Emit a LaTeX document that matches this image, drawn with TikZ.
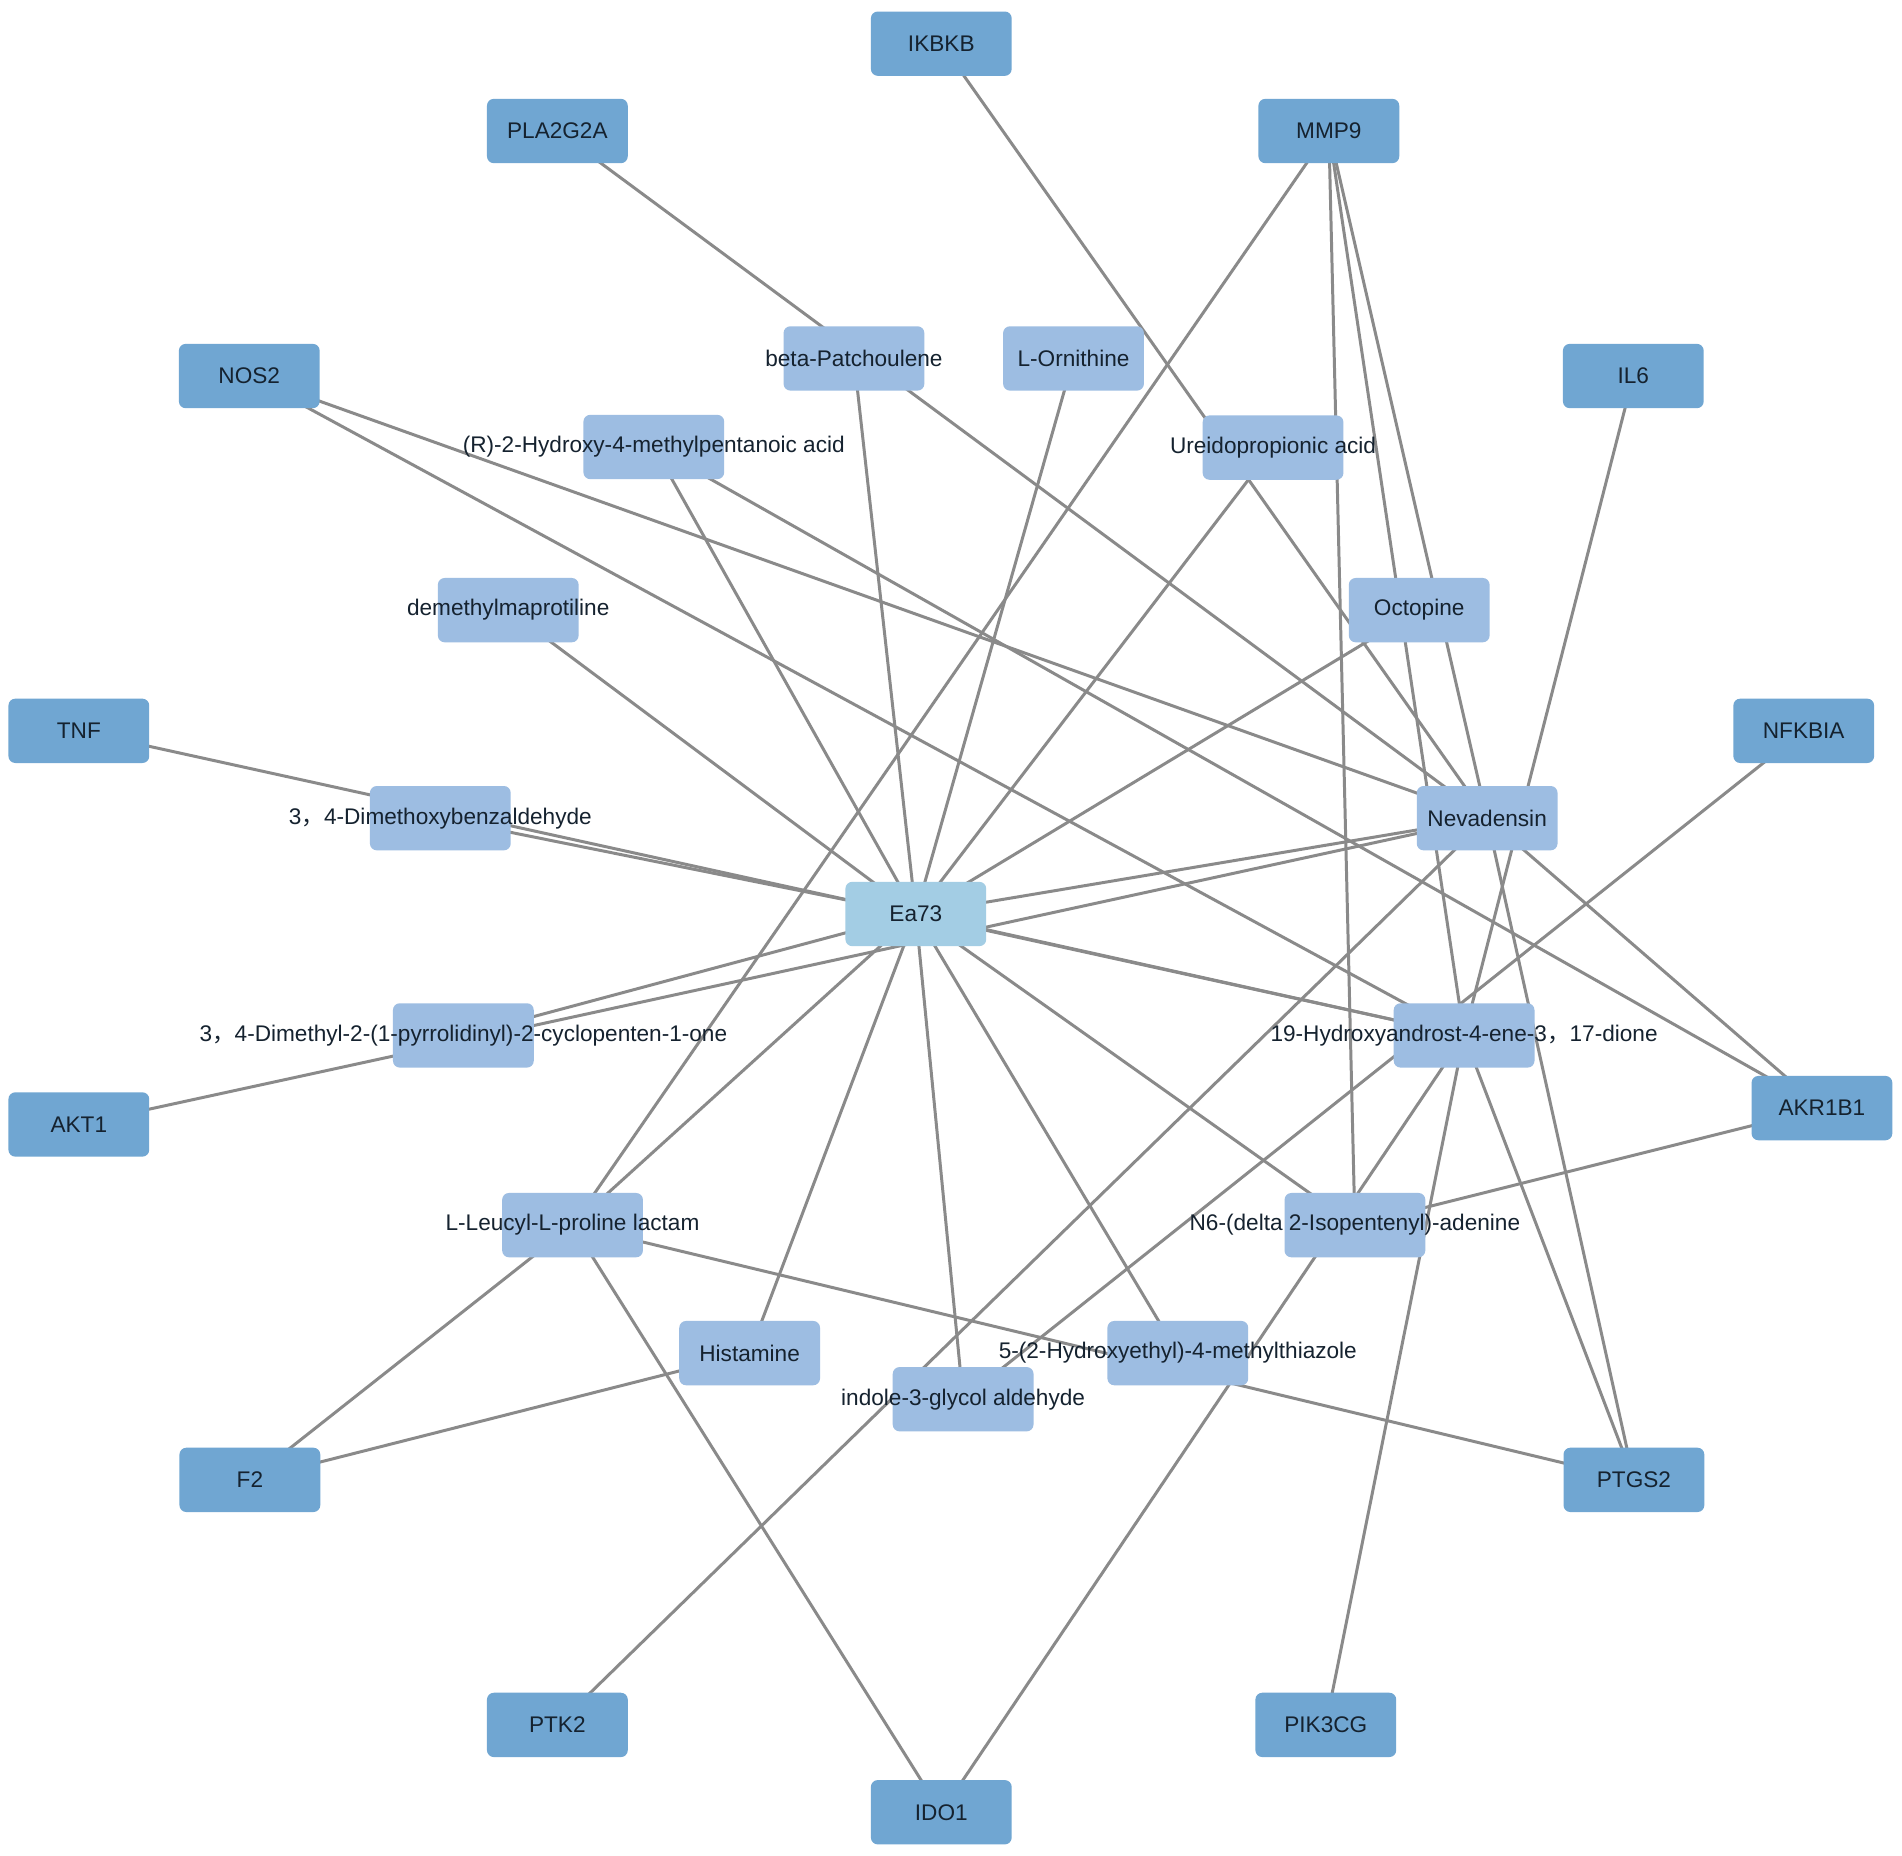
\documentclass[tikz,border=0pt]{standalone}
\usepackage{fontspec}
\setmainfont{Liberation Sans}
\newfontfamily\cjk{Noto Sans CJK SC}
\definecolor{tgtc}{HTML}{70A6D2}
\definecolor{cmpc}{HTML}{9DBDE2}
\definecolor{hubc}{HTML}{A3CDE4}
\definecolor{edgec}{HTML}{8A8A8A}
\definecolor{txtc}{HTML}{15222F}
\pgfdeclarelayer{back}
\pgfdeclarelayer{bg}
\pgfsetlayers{back,bg,main}
\begin{document}
\begin{tikzpicture}[x=0.01cm,y=-0.01cm,
  box/.style={rectangle, rounded corners=1.6pt, minimum width=1.16cm, minimum height=0.53cm, inner sep=0pt},
  tgtbox/.style={box, fill=tgtc},
  cmpbox/.style={box, fill=cmpc},
  hubbox/.style={box, fill=hubc},
  lbl/.style={inner sep=0pt, text=txtc, font=\fontsize{5.3pt}{6pt}\selectfont},
  link/.style={draw=edgec, line width=0.7pt}]
\begin{pgfonlayer}{back}
\fill[white] (0,0) rectangle (1568,1530);
\end{pgfonlayer}
\useasboundingbox (0,0) rectangle (1568,1530);
% targets
\node[tgtbox] (IKBKB) at (776,36) {};
\node[tgtbox] (PLA) at (459.5,108) {};
\node[tgtbox] (MMP) at (1095.5,108) {};
\node[tgtbox] (NOS) at (205.5,310) {};
\node[tgtbox] (IL) at (1346.5,310) {};
\node[tgtbox] (TNF) at (65,602.5) {};
\node[tgtbox] (NFK) at (1487,602.5) {};
\node[tgtbox] (AKT) at (65,927) {};
\node[tgtbox] (AKR) at (1502,913.5) {};
\node[tgtbox] (F2) at (206,1220) {};
\node[tgtbox] (PTGS) at (1347,1220) {};
\node[tgtbox] (PTK) at (459.5,1422) {};
\node[tgtbox] (PIK) at (1093,1422) {};
\node[tgtbox] (IDO) at (776,1494) {};
% compounds
\node[cmpbox] (beta) at (704,295.5) {};
\node[cmpbox] (orn) at (885,295.5) {};
\node[cmpbox] (hmp) at (539,368.5) {};
\node[cmpbox] (ure) at (1049.5,369) {};
\node[cmpbox] (dem) at (419,503) {};
\node[cmpbox] (oct) at (1170,503) {};
\node[cmpbox] (dmb) at (363,674.5) {};
\node[cmpbox] (nev) at (1226,674.5) {};
\node[hubbox] (ea) at (755,753.5) {};
\node[cmpbox] (dmp) at (382,853.6) {};
\node[cmpbox] (hyd) at (1207,853.6) {};
\node[cmpbox] (leu) at (472,1010) {};
\node[cmpbox] (nsix) at (1117,1010) {};
\node[cmpbox] (his) at (618,1115.5) {};
\node[cmpbox] (hmt) at (971,1115.5) {};
\node[cmpbox] (ind) at (794,1153.5) {};
% edges
\begin{pgfonlayer}{bg}
\foreach \c in {dem,hmp,beta,orn,ure,oct,nev,hyd,nsix,hmt,ind,his,leu,dmp,dmb}
  \draw[link] (ea.center) -- (\c.center);
\draw[link] (PLA.center) -- (nev.center);
\draw[link] (IKBKB.center) -- (nev.center);
\draw[link] (MMP.center) -- (leu.center);
\draw[link] (MMP.center) -- (nsix.center);
\draw[link] (MMP.center) -- (hyd.center);
\draw[link] (MMP.center) -- (nev.center);
\draw[link] (nev.center) -- (PTGS.center);
\draw[link] (NOS.center) -- (nev.center);
\draw[link] (NOS.center) -- (hyd.center);
\draw[link] (IL.center) -- (hyd.center);
\draw[link] (TNF.center) -- (hyd.center);
\draw[link] (NFK.center) -- (ind.center);
\draw[link] (AKT.center) -- (nev.center);
\draw[link] (AKR.center) -- (hmp.center);
\draw[link] (AKR.center) -- (nev.center);
\draw[link] (AKR.center) -- (nsix.center);
\draw[link] (F2.center) -- (leu.center);
\draw[link] (F2.center) -- (his.center);
\draw[link] (PTGS.center) -- (leu.center);
\draw[link] (PTGS.center) -- (hyd.center);
\draw[link] (PTK.center) -- (nev.center);
\draw[link] (PIK.center) -- (hyd.center);
\draw[link] (IDO.center) -- (leu.center);
\draw[link] (IDO.center) -- (hyd.center);
\end{pgfonlayer}
% labels
\node[lbl] (tIKBKB) at (IKBKB) {IKBKB};
\node[lbl] (tPLA) at (PLA) {PLA2G2A};
\node[lbl] (tMMP) at (MMP) {MMP9};
\node[lbl] (tNOS) at (NOS) {NOS2};
\node[lbl] (tIL) at (IL) {IL6};
\node[lbl] (tTNF) at (TNF) {TNF};
\node[lbl] (tNFK) at (NFK) {NFKBIA};
\node[lbl] (tAKT) at (AKT) {AKT1};
\node[lbl] (tAKR) at (AKR) {AKR1B1};
\node[lbl] (tF2) at (F2) {F2};
\node[lbl] (tPTGS) at (PTGS) {PTGS2};
\node[lbl] (tPTK) at (PTK) {PTK2};
\node[lbl] (tPIK) at (PIK) {PIK3CG};
\node[lbl] (tIDO) at (IDO) {IDO1};
\node[lbl] (tbeta) at (beta) {beta-Patchoulene};
\node[lbl] (torn) at (orn) {L-Ornithine};
\node[lbl] (thmp) at (hmp) {(R)-2-Hydroxy-4-methylpentanoic acid};
\node[lbl] (ture) at (ure) {Ureidopropionic acid};
\node[lbl] (tdem) at (dem) {demethylmaprotiline};
\node[lbl] (toct) at (oct) {Octopine};
\node[lbl] (tdmb) at (dmb) {3{\cjk ，}4-Dimethoxybenzaldehyde};
\node[lbl] (tnev) at (nev) {Nevadensin};
\node[lbl] (tea) at (ea) {Ea73};
\node[lbl] (tdmp) at (dmp) {3{\cjk ，}4-Dimethyl-2-(1-pyrrolidinyl)-2-cyclopenten-1-one};
\node[lbl] (thyd) at (hyd) {19-Hydroxyandrost-4-ene-3{\cjk ，}17-dione};
\node[lbl] (tleu) at (leu) {L-Leucyl-L-proline lactam};
\node[lbl] (tnsix) at (nsix) {N6-(delta 2-Isopentenyl)-adenine};
\node[lbl] (this) at (his) {Histamine};
\node[lbl] (thmt) at (hmt) {5-(2-Hydroxyethyl)-4-methylthiazole};
\node[lbl] (tind) at (ind) {indole-3-glycol aldehyde};
\end{tikzpicture}
\end{document}
